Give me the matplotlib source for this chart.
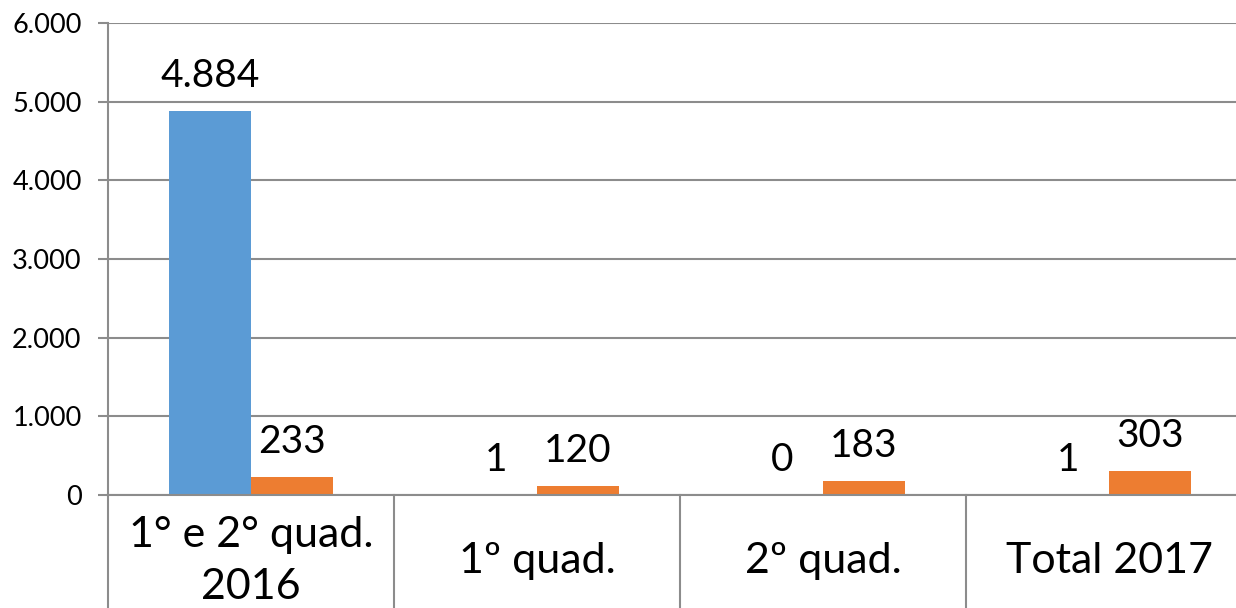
import matplotlib.pyplot as plt
import matplotlib.transforms as mtransforms
import numpy as np

categories = ['1° e 2° quad.\n2016', '1º quad.', '2º quad.', 'Total 2017']
serie_azul = [4884, 1, 0, 1]
serie_laranja = [233, 120, 183, 303]
rotulos_azul = ['4.884', '1', '0', '1']
rotulos_laranja = ['233', '120', '183', '303']
yticks = [0, 1000, 2000, 3000, 4000, 5000, 6000]
ytick_labels = ['0', '1.000', '2.000', '3.000', '4.000', '5.000', '6.000']

plt.rcParams['font.family'] = ['Lato', 'DejaVu Sans']

azul = '#5B9BD5'
laranja = '#ED7D31'
cinza = '#8C8C8C'

fig = plt.figure(figsize=(12.36, 6.08), dpi=100)
ax = fig.add_axes([108 / 1236, 113 / 608, 1144 / 1236, 472 / 608])

x = np.arange(len(categories))
w = 0.287
ax.bar(x - w / 2, serie_azul, w, color=azul, zorder=3)
ax.bar(x + w / 2, serie_laranja, w, color=laranja, zorder=3)

# data labels
for i in range(len(categories)):
    ax.annotate(rotulos_azul[i], (x[i] - w / 2, serie_azul[i]), xytext=(0, 25),
                textcoords='offset points', ha='center', va='center', fontsize=28)
    ax.annotate(rotulos_laranja[i], (x[i] + w / 2, serie_laranja[i]), xytext=(0, 25),
                textcoords='offset points', ha='center', va='center', fontsize=28)

ax.set_xlim(-0.5, len(categories) - 0.5)
ax.set_ylim(0, 6000)
ax.set_yticks(yticks)
ax.set_yticklabels(ytick_labels, fontsize=19.5)
ax.tick_params(axis='y', length=7, width=1.5, color=cinza, pad=12)
ax.set_xticks([])
ax.yaxis.grid(True, color=cinza, linewidth=1.5, zorder=0)

for s in ['top', 'right']:
    ax.spines[s].set_visible(False)
for s in ['left', 'bottom']:
    ax.spines[s].set_color(cinza)
    ax.spines[s].set_linewidth(1.5)
    ax.spines[s].set_zorder(4)

# category labels and separators below the axis
trans = mtransforms.blended_transform_factory(ax.transData, ax.transAxes)
for i, cat in enumerate(categories):
    ax.text(x[i], -0.14, cat, transform=trans, ha='center', va='center',
            fontsize=31, linespacing=1.45)
for b in np.arange(len(categories)) - 0.5:
    ax.plot([b, b], [0, -0.3], transform=trans, color=cinza, linewidth=1.5,
            clip_on=False)

fig.savefig('out.png', dpi=100)
